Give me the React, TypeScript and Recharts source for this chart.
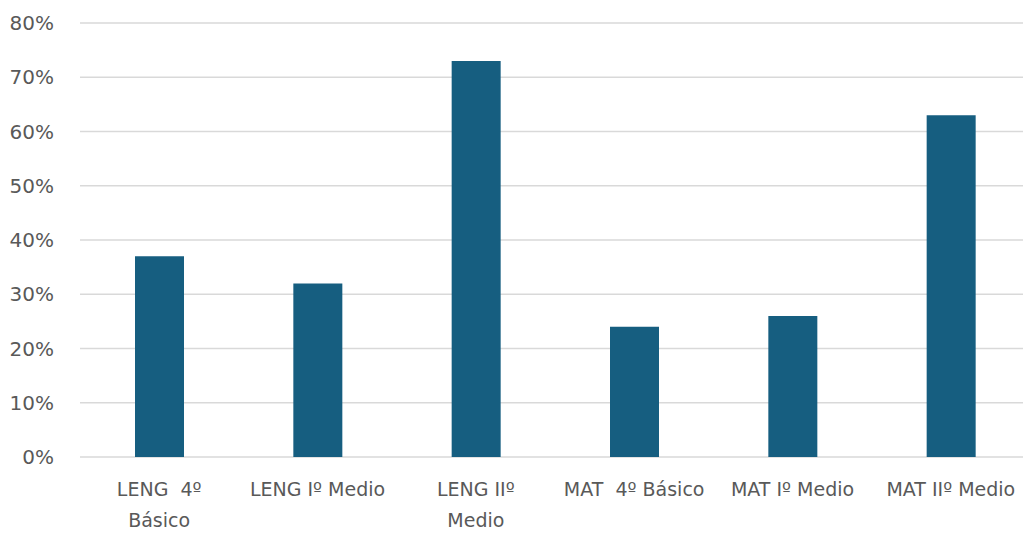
import React from "react";
import { BarChart, Bar, XAxis, YAxis, CartesianGrid } from "recharts";

const categories = [
  "LENG  4º\nBásico",
  "LENG Iº Medio",
  "LENG IIº\nMedio",
  "MAT  4º Básico",
  "MAT Iº Medio",
  "MAT IIº Medio",
];
const values = [0.37, 0.32, 0.73, 0.24, 0.26, 0.63];
const yTicks = [0, 0.1, 0.2, 0.3, 0.4, 0.5, 0.6, 0.7, 0.8];

const data = categories.map((name, i) => ({ name, value: values[i] }));

const FONT = "'DejaVu Sans', 'Liberation Sans', sans-serif";

function CategoryTick(props: any) {
  const { x, y, payload } = props;
  const lines = String(payload.value).split("\n");
  return (
    <text x={x} y={y} textAnchor="middle" fill="#595959" fontSize={19} fontFamily={FONT} style={{ whiteSpace: "pre" }}>
      {lines.map((line, i) => (
        <tspan key={i} x={x} dy={31}>
          {line}
        </tspan>
      ))}
    </text>
  );
}

export default function App() {
  return (
    <div style={{ position: "absolute", left: 0, top: 0, width: 1023, height: 535, overflow: "hidden", background: "#fff" }}>
      <BarChart
        width={1030}
        height={535}
        data={data}
        margin={{ top: 23, right: 0, left: 0, bottom: 0 }}
        barSize={49}
      >
        <CartesianGrid vertical={false} stroke="#d9d9d9" strokeWidth={1.5} />
        <XAxis
          dataKey="name"
          axisLine={false}
          tickLine={false}
          height={78}
          interval={0}
          tick={<CategoryTick />}
        />
        <YAxis
          domain={[0, 0.8]}
          ticks={yTicks}
          axisLine={false}
          tickLine={false}
          width={80}
          tickMargin={20}
          tickFormatter={(v: number) => `${Math.round(v * 100)}%`}
          tick={{ fill: "#595959", fontSize: 20, fontFamily: FONT }}
        />
        <Bar dataKey="value" fill="#165e80" isAnimationActive={false} />
      </BarChart>
    </div>
  );
}
